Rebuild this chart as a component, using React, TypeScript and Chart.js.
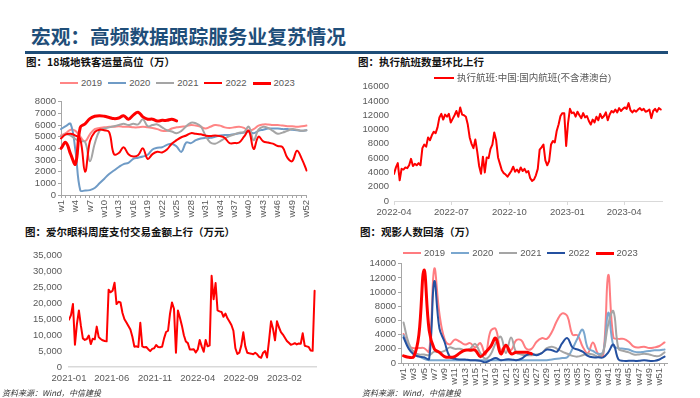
import React, { useEffect, useRef } from 'react';
import { Chart, registerables } from 'chart.js';

Chart.register(...registerables);
Chart.defaults.font.family = "'Liberation Sans', Arial, sans-serif";

// ---------- text ----------
const MAIN_TITLE = '宏观：高频数据跟踪服务业复苏情况';
const TITLE_METRO = '图：18城地铁客运量高位（万）';
const TITLE_FLIGHT = '图：执行航班数量环比上行';
const TITLE_AYER = '图：爱尔眼科周度支付交易金额上行（万元）';
const TITLE_MOVIE = '图：观影人数回落（万）';
const SOURCE = '资料来源：Wind，中信建投';
const FLIGHT_SERIES = '执行航班:中国:国内航班(不含港澳台)';

// ---------- categories ----------
const weekLabels = Array.from({ length: 52 }, (_, i) => `w${i + 1}`);
const yearNames = ['2019', '2020', '2021', '2022', '2023'];

// ---------- panel 1: 18-city metro ridership (万) ----------
const metro2019 = [5100, 5300, 5600, 5500, 5000, 4600, 5200, 5650, 5750, 5800, 5850, 5850, 5900, 5850, 5850, 5800, 5800, 5850, 5800, 5750, 5650, 5500, 5500, 5700, 5800, 5850, 5900, 6000, 5950, 5850, 5700, 5850, 6000, 5950, 5800, 5750, 5800, 5850, 5750, 5500, 5650, 5950, 6050, 6050, 6000, 6000, 5950, 5900, 5900, 5850, 5900, 5950];
const metro2020 = [5650, 5900, 6100, 3800, 400, 380, 420, 600, 1000, 1400, 1800, 2100, 2400, 2650, 2750, 3100, 3200, 3300, 3450, 3900, 4050, 4100, 4300, 4400, 4150, 3700, 4500, 4450, 4700, 4850, 4900, 4900, 5000, 5100, 5150, 5150, 5200, 5300, 5350, 5450, 5300, 5500, 5600, 5700, 5700, 5700, 5650, 5650, 5600, 5550, 5500, 5550];
const metro2021 = [5000, 5200, 5100, 4800, 4600, 4550, 2900, 4400, 5500, 5700, 5800, 5900, 6000, 6100, 6000, 6100, 6050, 6500, 5900, 6000, 6050, 5800, 5550, 5450, 5300, 5500, 5900, 6200, 6150, 5900, 5100, 4500, 4400, 4600, 4850, 5050, 5200, 5350, 5400, 5850, 4700, 5600, 5850, 5750, 5500, 5250, 5350, 5500, 5650, 5600, 5500, 5550];
const metro2022 = [4850, 5200, 5250, 5100, 4800, 2000, 4600, 5400, 5600, 5550, 5400, 3500, 3600, 4100, 3500, 3300, 3400, 4000, 3100, 3500, 3700, 3650, 3900, 4400, 4700, 4950, 5100, 5300, 5250, 5200, 5100, 5050, 5100, 5050, 4900, 4450, 4450, 4500, 5000, 5500, 3950, 5000, 4600, 4500, 4400, 4200, 4100, 3200, 2900, 3800, 3100, 2100];
const metro2023 = [4000, 4500, 3500, 2650, 5800, 6100, 6550, 6750, 6800, 6750, 6650, 6550, 6600, 6800, 6500, 6850, 7100, 6700, 6500, 6500, 6350, 6400, 6400, 6500, 6350];
const metroTicks = [0, 1000, 2000, 3000, 4000, 5000, 6000, 7000, 8000];

// ---------- panel 2: domestic flights, every 3 days from 2022-04-01 ----------
const flightStart = '2022-04-01';
const flightStepDays = 3;
const flightValues = [3800, 4700, 5300, 2900, 4500, 4400, 4700, 4600, 5000, 5900, 4900, 5200, 5000, 5300, 5000, 7400, 7900, 7600, 8900, 8500, 9200, 9700, 9500, 10300, 11700, 12200, 11400, 12100, 11800, 12200, 11000, 11500, 12000, 12600, 11800, 13100, 12100, 12000, 11800, 10700, 8900, 8000, 7400, 8600, 6900, 4900, 3800, 6200, 4000, 6100, 6000, 7300, 7900, 9600, 8500, 6100, 5200, 4300, 3900, 3700, 3400, 3800, 4200, 4800, 4100, 4400, 4000, 4700, 4200, 4500, 4000, 4200, 3200, 2800, 3000, 3600, 4500, 7200, 7500, 7900, 5700, 5000, 5600, 7900, 8400, 8200, 9800, 10700, 11900, 12300, 12300, 7700, 10900, 12900, 12300, 12400, 11800, 12500, 12000, 11600, 12300, 11700, 11900, 11200, 10700, 11400, 11000, 11800, 11300, 12200, 11600, 11900, 12400, 11300, 12100, 12600, 12400, 12800, 12400, 13000, 12600, 12900, 13100, 12900, 13700, 12700, 12400, 12700, 12500, 12800, 13000, 12700, 12900, 12500, 12600, 12800, 11600, 12600, 12900, 12500, 13000, 12800];
const flightTickLabels = ['2022-04', '2022-07', '2022-10', '2023-01', '2023-04'];
const flightTicks = [0, 2000, 4000, 6000, 8000, 10000, 12000, 14000, 16000];
const flightLastDay = 425;

// ---------- panel 3: Aier weekly payments (万元), weekly from 2021-01-01 ----------
const ayerStart = '2021-01-01';
const ayerValues = [14900, 16300, 19800, 7000, 13500, 17800, 13000, 9000, 8500, 8800, 9900, 7200, 8900, 8700, 12700, 9400, 8800, 8400, 8200, 8100, 24300, 23500, 24000, 26500, 19800, 20500, 20300, 17000, 15000, 14000, 12900, 11800, 9500, 6400, 6500, 6300, 13900, 6500, 6200, 6300, 5600, 5000, 5700, 5900, 6900, 6300, 6200, 6400, 9000, 11000, 11400, 16800, 20300, 18300, 4500, 17800, 15500, 13000, 10000, 8000, 7500, 5500, 5500, 5600, 4600, 5500, 8500, 6500, 4800, 8500, 6500, 6800, 28700, 21300, 26400, 17800, 17500, 17300, 15800, 16800, 15300, 14300, 13200, 11400, 5900, 4100, 4500, 6800, 10900, 6500, 4500, 4300, 4200, 4000, 4500, 4000, 3200, 2900, 4500, 5000, 3000, 8400, 14400, 12000, 8400, 14400, 12500, 11000, 10200, 9200, 8200, 7600, 7000, 7200, 7500, 7100, 7400, 7300, 10600, 6700, 6500, 6300, 5200, 5100, 24000];
const ayerTickLabels = ['2021-01', '2021-06', '2021-11', '2022-04', '2022-09', '2023-02'];
const ayerTicks = [0, 5000, 10000, 15000, 20000, 25000, 30000, 35000];

// ---------- panel 4: cinema admissions (万) ----------
const movie2019 = [4100, 2400, 2100, 2100, 2100, 1600, 13300, 7000, 3400, 2600, 3300, 3000, 2600, 2800, 2200, 2800, 1200, 4500, 4800, 1800, 2500, 1800, 3200, 3200, 2000, 2000, 3000, 3500, 3400, 4400, 6000, 7000, 6600, 4000, 3900, 2300, 1400, 2900, 1300, 1000, 12400, 3600, 3400, 3400, 3000, 2300, 2200, 2300, 2100, 2200, 2400, 2900];
const movie2020 = [3900, 2200, 1600, 1000, 600, 400, 400, 400, 400, 400, 400, 400, 400, 400, 400, 400, 400, 400, 400, 400, 400, 400, 400, 400, 400, 400, 400, 400, 400, 500, 600, 700, 800, 2000, 3500, 4700, 2100, 1700, 1300, 1500, 7100, 2400, 2100, 2000, 1900, 1600, 1500, 1600, 1700, 1800, 1800, 1900];
const movie2021 = [5700, 2800, 1500, 1200, 1200, 1100, 1600, 1500, 1700, 2200, 2000, 2000, 1800, 2000, 2700, 1400, 600, 1200, 2800, 3700, 1400, 3600, 1500, 1200, 1100, 1100, 1200, 1400, 2100, 2300, 2000, 1600, 1300, 1000, 900, 1100, 1300, 1200, 900, 1500, 5500, 7300, 2000, 1700, 1500, 1200, 1200, 1300, 1200, 1000, 1000, 1500];
const movie2022 = [3600, 2000, 1200, 900, 800, 600, 11500, 4900, 3000, 900, 600, 500, 500, 400, 400, 300, 100, 400, 700, 400, 500, 500, 400, 600, 1100, 1300, 1100, 1400, 1900, 1800, 1600, 2800, 3500, 2200, 1900, 1600, 1000, 800, 800, 800, 1500, 2600, 500, 300, 300, 300, 300, 400, 300, 300, 500, 900];
const movie2023 = [1000, 800, 900, 4000, 13100, 4600, 2000, 1500, 900, 800, 900, 1400, 1800, 1800, 1800, 900, 1500, 2300, 3500, 1300, 2500, 1300, 1500, 1500, 1500, 1300];
const movieTicks = [0, 2000, 4000, 6000, 8000, 10000, 12000, 14000];

// ---------- styling ----------
const TICK = '#595959';
const AXIS = '#A6A6A6';
const AXIS_LIGHT = '#D9D9D9';
const RED = '#FF0000';
const metroColors = ['#FF8585', '#6F9BC6', '#A5A5A5', RED, RED];
const metroWidths = [2, 2, 2, 2, 3];
const movieColors = ['#FF7C80', '#7AA7CF', '#A5A5A5', '#2450A0', RED];
const movieWidths = [2, 2, 2, 2, 3];

type Box = { left: number; top: number; width: number; height: number; plotLeft: number; plotTop: number; plotRight: number; plotBottom: number };

function frame(b: Box) {
  return {
    padding: { top: b.plotTop - b.top, right: b.left + b.width - b.plotRight, left: 0, bottom: 0 },
    yFit: (s: any) => { s.width = b.plotLeft - b.left; },
    xFit: (s: any) => { s.height = b.top + b.height - b.plotBottom; },
  };
}

const common = {
  animation: false as const,
  responsive: false,
  events: [] as any[],
  plugins: { legend: { display: false }, tooltip: { enabled: false } },
  elements: { point: { radius: 0 }, line: { borderCapStyle: 'round' as const, borderJoinStyle: 'round' as const } },
};

const setTicks = (values: number[]) => (s: any) => { s.ticks = values.map((v) => ({ value: v })); };
const plain = (v: any) => String(v);

const monthOffset = (label: string, start: string, unitDays: number) => {
  const [y, m] = label.split('-').map(Number);
  const [sy, sm, sd] = start.split('-').map(Number);
  return (Date.UTC(y, m - 1, 1) - Date.UTC(sy, sm - 1, sd)) / (86400000 * unitDays);
};

function ChartCanvas({ box, build }: { box: Box; build: (b: Box) => any }) {
  const ref = useRef<HTMLCanvasElement>(null);
  useEffect(() => {
    const chart = new Chart(ref.current as HTMLCanvasElement, build(box));
    return () => chart.destroy();
  }, []);
  return (
    <canvas
      ref={ref}
      width={box.width}
      height={box.height}
      style={{ position: 'absolute', left: box.left, top: box.top, width: box.width, height: box.height }}
    />
  );
}

// ---------- panel builders ----------
const metroBox: Box = { left: 6, top: 94, width: 314, height: 138, plotLeft: 61, plotTop: 101, plotRight: 310, plotBottom: 195 };
function buildMetro(b: Box) {
  const f = frame(b);
  const series = [metro2019, metro2020, metro2021, metro2022, metro2023];
  return {
    type: 'line',
    data: {
      labels: weekLabels,
      datasets: series.map((d, i) => ({
        label: yearNames[i], data: d, borderColor: metroColors[i], borderWidth: metroWidths[i],
        tension: 0.4, fill: false, order: 4 - i,
      })),
    },
    options: {
      ...common,
      layout: { padding: f.padding },
      scales: {
        x: {
          type: 'category', offset: false, afterFit: f.xFit,
          grid: { drawOnChartArea: false, drawTicks: true, tickLength: 3, color: AXIS },
          border: { display: true, color: AXIS },
          ticks: { autoSkip: false, minRotation: 90, maxRotation: 90, padding: 2, color: TICK, font: { size: 9.5 },
            callback: (_v: any, i: number) => (i % 3 === 0 ? weekLabels[i] : '') },
        },
        y: {
          min: 0, max: 8000, afterFit: f.yFit, afterBuildTicks: setTicks(metroTicks),
          grid: { drawOnChartArea: false, drawTicks: true, tickLength: 3, color: AXIS },
          border: { display: true, color: AXIS },
          ticks: { autoSkip: false, color: TICK, font: { size: 9.5 }, padding: 2, callback: plain },
        },
      },
    },
  };
}

const flightBox: Box = { left: 350, top: 76, width: 320, height: 146, plotLeft: 394, plotTop: 84, plotRight: 662, plotBottom: 201 };
function buildFlight(b: Box) {
  const f = frame(b);
  return {
    type: 'line',
    data: {
      datasets: [{
        label: FLIGHT_SERIES,
        data: flightValues.map((v, i) => ({ x: i * flightStepDays, y: v })),
        borderColor: RED, borderWidth: 2, tension: 0, fill: false,
      }],
    },
    options: {
      ...common,
      layout: { padding: f.padding },
      scales: {
        x: {
          type: 'linear', min: 0, max: flightLastDay, afterFit: f.xFit,
          afterBuildTicks: (s: any) => { s.ticks = flightTickLabels.map((l) => ({ value: monthOffset(l, flightStart, 1) })); },
          grid: { drawOnChartArea: false, drawTicks: true, tickLength: 4, color: AXIS_LIGHT },
          border: { display: true, color: AXIS_LIGHT },
          ticks: { autoSkip: false, maxRotation: 0, padding: 2, color: TICK, font: { size: 9.5 },
            callback: (_v: any, i: number) => flightTickLabels[i] },
        },
        y: {
          min: 0, max: 16000, afterFit: f.yFit, afterBuildTicks: setTicks(flightTicks),
          ticks: { autoSkip: false, color: TICK, font: { size: 9.5 }, padding: 5, callback: plain },
          grid: { display: false, drawTicks: false },
          border: { display: false },
        },
      },
    },
  };
}

const ayerBox: Box = { left: 0, top: 243, width: 326, height: 145, plotLeft: 69, plotTop: 250, plotRight: 316, plotBottom: 367 };
function buildAyer(b: Box) {
  const f = frame(b);
  return {
    type: 'line',
    data: {
      datasets: [{
        label: '爱尔眼科',
        data: ayerValues.map((v, i) => ({ x: i, y: v })),
        borderColor: RED, borderWidth: 2, tension: 0, fill: false,
      }],
    },
    options: {
      ...common,
      layout: { padding: f.padding },
      scales: {
        x: {
          type: 'linear', min: 0, max: 124.7, afterFit: f.xFit,
          afterBuildTicks: (s: any) => { s.ticks = ayerTickLabels.map((l) => ({ value: monthOffset(l, ayerStart, 7) })); },
          grid: { display: false, drawTicks: false },
          border: { display: true, color: AXIS_LIGHT, width: 1.5 },
          ticks: { autoSkip: false, maxRotation: 0, padding: 6, color: TICK, font: { size: 9.5 },
            callback: (_v: any, i: number) => ayerTickLabels[i] },
        },
        y: {
          min: 0, max: 35000, afterFit: f.yFit, afterBuildTicks: setTicks(ayerTicks),
          ticks: { autoSkip: false, color: TICK, font: { size: 9.5 }, padding: 7,
            callback: (v: any) => Number(v).toLocaleString('en-US') },
          grid: { display: false, drawTicks: false },
          border: { display: false },
        },
      },
    },
  };
}

const movieBox: Box = { left: 350, top: 256, width: 328, height: 134, plotLeft: 401, plotTop: 263, plotRight: 675, plotBottom: 363 };
function buildMovie(b: Box) {
  const f = frame(b);
  const series = [movie2019, movie2020, movie2021, movie2022, movie2023];
  return {
    type: 'line',
    data: {
      labels: weekLabels,
      datasets: series.map((d, i) => ({
        label: yearNames[i], data: d, borderColor: movieColors[i], borderWidth: movieWidths[i],
        tension: 0.4, fill: false, order: 4 - i,
      })),
    },
    options: {
      ...common,
      layout: { padding: f.padding },
      scales: {
        x: {
          type: 'category', offset: true, afterFit: f.xFit,
          grid: { drawOnChartArea: false, drawTicks: true, tickLength: 3, color: AXIS, offset: false },
          border: { display: true, color: AXIS },
          ticks: { autoSkip: false, minRotation: 90, maxRotation: 90, padding: 2, color: TICK, font: { size: 9.5 },
            callback: (_v: any, i: number) => (i % 2 === 0 ? weekLabels[i] : '') },
        },
        y: {
          min: 0, max: 14000, afterFit: f.yFit, afterBuildTicks: setTicks(movieTicks),
          grid: { drawOnChartArea: false, drawTicks: true, tickLength: 3, color: AXIS },
          border: { display: true, color: AXIS },
          ticks: { autoSkip: false, color: TICK, font: { size: 9.5 }, padding: 2, callback: plain },
        },
      },
    },
  };
}

// ---------- html pieces ----------
function Legend({ left, top, colors, widths, labels, lineW, gap }: { left: number; top: number; colors: string[]; widths: number[]; labels: string[]; lineW: number; gap: number }) {
  return (
    <div style={{ position: 'absolute', left, top, height: 12, display: 'flex', alignItems: 'center', whiteSpace: 'nowrap' }}>
      {labels.map((l, i) => (
        <div key={l} style={{ display: 'flex', alignItems: 'center', marginRight: gap }}>
          <span style={{ display: 'inline-block', width: lineW, height: widths[i], background: colors[i] }} />
          <span style={{ marginLeft: 3, fontSize: 9.5, lineHeight: '12px', color: TICK, fontFamily: "'Liberation Sans', 'Noto Sans CJK SC', sans-serif" }}>{l}</span>
        </div>
      ))}
    </div>
  );
}

const panelTitle = (text: string, left: number, top: number) => (
  <div style={{ position: 'absolute', left, top, fontSize: 10.5, lineHeight: '12px', fontWeight: 700, color: '#111', whiteSpace: 'nowrap', fontFamily: "'Noto Sans CJK SC', sans-serif" }}>{text}</div>
);

const sourceNote = (left: number, top: number) => (
  <div style={{ position: 'absolute', left, top, fontSize: 8, lineHeight: '10px', fontStyle: 'italic', color: '#333', whiteSpace: 'nowrap', fontFamily: "'Noto Sans CJK SC', sans-serif" }}>{SOURCE}</div>
);

export default function App() {
  return (
    <div style={{ position: 'fixed', left: 0, top: 0, width: 700, height: 398, background: '#fff', overflow: 'hidden' }}>
      <div style={{ position: 'absolute', left: 31, top: 25, fontSize: 19.7, lineHeight: '21px', fontWeight: 700, color: '#1F4E79', whiteSpace: 'nowrap', fontFamily: "'Noto Sans CJK SC', sans-serif" }}>{MAIN_TITLE}</div>
      <div style={{ position: 'absolute', left: 25, top: 51, width: 643, height: 3, background: '#1F4E79' }} />

      {panelTitle(TITLE_METRO, 26, 56)}
      {panelTitle(TITLE_FLIGHT, 358, 56)}
      {panelTitle(TITLE_AYER, 25, 226)}
      {panelTitle(TITLE_MOVIE, 360, 226)}

      <ChartCanvas box={metroBox} build={buildMetro} />
      <ChartCanvas box={flightBox} build={buildFlight} />
      <ChartCanvas box={ayerBox} build={buildAyer} />
      <ChartCanvas box={movieBox} build={buildMovie} />

      <Legend left={60} top={77} colors={metroColors} widths={metroWidths} labels={yearNames} lineW={18} gap={6} />
      <Legend left={403} top={247} colors={movieColors} widths={movieWidths} labels={yearNames} lineW={18} gap={6} />
      <Legend left={434} top={72} colors={[RED]} widths={[2]} labels={[FLIGHT_SERIES]} lineW={20} gap={0} />

      {sourceNote(2, 388)}
      {sourceNote(362, 388)}
    </div>
  );
}
